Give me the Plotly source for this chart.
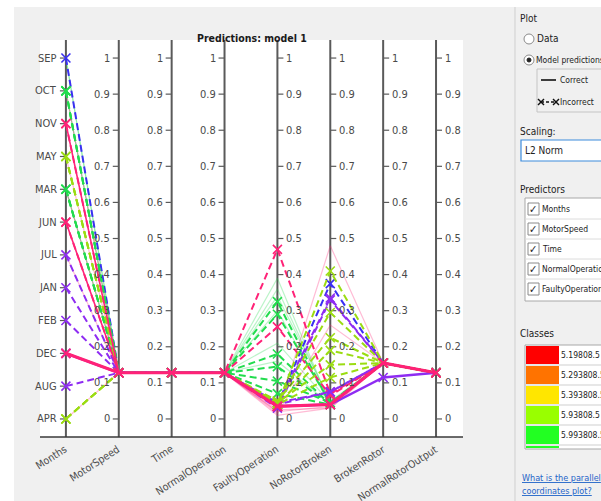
import plotly.graph_objects as go

# ---------------- data ----------------
predictors = ["Months", "MotorSpeed", "Time", "NormalOperation",
              "FaultyOperation", "NoRotorBroken", "BrokenRotor", "NormalRotorOutput"]
month_order = ["APR", "AUG", "DEC", "FEB", "JAN", "JUL", "JUN", "MAR", "MAY", "NOV", "OCT", "SEP"]
tick_values = [0, 0.1, 0.2, 0.3, 0.4, 0.5, 0.6, 0.7, 0.8, 0.9, 1]
tick_labels = ["0", "0.1", "0.2", "0.3", "0.4", "0.5", "0.6", "0.7", "0.8", "0.9", "1"]

motor_speed_value = 0.128
time_value = 0.128
normal_operation_value = 0.128
normal_rotor_output_value = 0.128

obs_month = ["SEP", "OCT", "MAR", "SEP", "OCT", "MAR", "MAY", "JUL", "APR", "OCT", "MAR",
             "SEP", "OCT", "MAR", "OCT", "MAR", "OCT", "MAR", "NOV", "JUN", "DEC",
             "JUL", "AUG", "JAN", "FEB", "MAY", "APR", "MAY", "APR", "MAY", "APR",
             "DEC", "DEC", "NOV", "JUN"]
obs_faulty = [0.39, 0.36, 0.34, 0.30, 0.21, 0.16, 0.02, 0.015, 0.01, 0.02, 0.025,
              0.04, 0.325, 0.29, 0.18, 0.145, 0.105, 0.07, 0.47, 0.255, 0.035,
              0.04, 0.03, 0.04, 0.045, 0.04, 0.045, 0.05, 0.04, 0.045, 0.04,
              0.035, 0.035, 0.035, 0.035]
obs_norotor = [0.04, 0.045, 0.05, 0.04, 0.045, 0.04, 0.48, 0.26, 0.03, 0.035, 0.03,
               0.375, 0.04, 0.045, 0.04, 0.04, 0.045, 0.04, 0.07, 0.065, 0.04,
               0.335, 0.33, 0.075, 0.075, 0.41, 0.295, 0.225, 0.19, 0.15, 0.115,
               0.04, 0.04, 0.04, 0.04]
obs_broken = [0.155, 0.155, 0.155, 0.155, 0.155, 0.155, 0.155, 0.155, 0.155, 0.155, 0.155,
              0.155, 0.155, 0.155, 0.155, 0.155, 0.155, 0.155, 0.155, 0.155, 0.155,
              0.155, 0.155, 0.155, 0.155, 0.155, 0.155, 0.155, 0.155, 0.155, 0.155,
              0.115, 0.155, 0.155, 0.155]
obs_class = ["green", "green", "green", "green", "green", "green", "pink", "pink", "pink", "pink", "pink",
             "blue", "green", "green", "green", "green", "green", "green", "pink", "pink", "pink",
             "purple", "purple", "purple", "purple", "yellowgreen", "yellowgreen", "yellowgreen",
             "yellowgreen", "yellowgreen", "yellowgreen",
             "purple", "pink", "pink", "pink"]
obs_correct = [True, True, True, True, True, True, True, True, True, True, True,
               False, False, False, False, False, False, False, False, False, False,
               False, False, False, False, False, False, False, False, False, False,
               True, True, True, True]
obs_count = [1, 1, 1, 1, 1, 1, 1, 1, 1, 1, 1,
             1, 1, 1, 1, 1, 1, 1, 1, 1, 1,
             1, 1, 1, 1, 1, 1, 1, 1, 1, 1,
             3, 4, 2, 2]

class_names = ["5.19808.5", "5.293808.5", "5.393808.5", "5.93808.5", "5.993808.5"]

# ---------------- style ----------------
line_colors = {"blue": "#3a2ff2", "green": "#22dc4e", "pink": "#ff2277",
               "purple": "#8e2cf2", "yellowgreen": "#9bdc12"}
swatch_colors = ["#ff0000", "#ff7300", "#ffe600", "#99ff00", "#22ff22"]
FONT = "DejaVu Sans Condensed, Liberation Sans Narrow, Arial Narrow, sans-serif"
TICK_COLOR = "#4a4a4a"

W_PAGE, H_PAGE = 601, 501
L, T, R, B = 40, 40, 138, 64
PW, PH = W_PAGE - L - R, H_PAGE - T - B


def xp(px):
    return (px - L) / PW


def yp(py):
    return (T + PH - py) / PH


fig = go.Figure()

order = sorted(range(len(obs_month)),
               key=lambda k: (0 if (obs_correct[k] and obs_count[k] == 1) else
                              1 if not obs_correct[k] else 2 + (obs_class[k] == "pink")))
xs = list(range(len(predictors)))
for k in order:
    vals = [month_order.index(obs_month[k]) / (len(month_order) - 1),
            motor_speed_value, time_value, normal_operation_value,
            obs_faulty[k], obs_norotor[k], obs_broken[k], normal_rotor_output_value]
    col = line_colors[obs_class[k]]
    if obs_correct[k]:
        op = 0.3 if obs_count[k] == 1 else 1.0
        width = 1.2 if obs_count[k] == 1 else 0.8 * obs_count[k]
        fig.add_trace(go.Scatter(x=xs, y=vals, mode="lines",
                                 line=dict(color=col, width=width),
                                 opacity=op, hoverinfo="skip", showlegend=False))
    else:
        fig.add_trace(go.Scatter(x=xs, y=vals, mode="lines+markers",
                                 line=dict(color=col, width=2, dash="7px,4px"),
                                 marker=dict(symbol="x-thin", size=9,
                                             line=dict(color=col, width=1.6)),
                                 hoverinfo="skip", showlegend=False))
    if obs_correct[k] and obs_count[k] > 1:
        fig.add_trace(go.Scatter(x=xs, y=vals, mode="markers",
                                 marker=dict(symbol="x-thin", size=9,
                                             line=dict(color=col, width=1.6)),
                                 hoverinfo="skip", showlegend=False))

shapes = []
annotations = []

# page backgrounds
shapes.append(dict(type="rect", xref="paper", yref="paper", x0=xp(0), x1=xp(601), y0=yp(0), y1=yp(7),
                   fillcolor="white", line=dict(width=0), layer="below"))
shapes.append(dict(type="rect", xref="paper", yref="paper", x0=xp(0), x1=xp(14), y0=yp(0), y1=yp(501),
                   fillcolor="white", line=dict(width=0), layer="below"))

# axes
n_left = 4
for i, name in enumerate(predictors):
    shapes.append(dict(type="line", xref="x", yref="paper", x0=i, x1=i, y0=0, y1=1,
                       line=dict(color="#5a5a5a", width=2), layer="below"))
    left = i < n_left
    if i == 0:
        tv = [j / (len(month_order) - 1) for j in range(len(month_order))]
        tl = month_order
    else:
        tv, tl = tick_values, tick_labels
    for v, lab in zip(tv, tl):
        shapes.append(dict(type="line", xref="x", yref="y", xsizemode="pixel", xanchor=i,
                           x0=-6 if left else 0, x1=0 if left else 6, y0=v, y1=v,
                           line=dict(color="#5a5a5a", width=1.2), layer="below"))
        annotations.append(dict(x=i, y=v, xref="x", yref="y", text=lab, showarrow=False,
                                xanchor="right" if left else "left", xshift=-7 if left else 7,
                                font=dict(family=FONT, size=11, color=TICK_COLOR)))
    annotations.append(dict(x=i, y=yp(440), xref="x", yref="paper", text=name, showarrow=False,
                            textangle=-33, xanchor="right", yanchor="top", xshift=6,
                            font=dict(family=FONT, size=10.5, color=TICK_COLOR)))

# bottom axis line
shapes.append(dict(type="line", xref="paper", yref="paper", x0=0, x1=1, y0=0, y1=0,
                   line=dict(color="#3a3a3a", width=1.5)))

# title
annotations.append(dict(x=0.5, y=yp(30), xref="paper", yref="paper", text="<b>Predictions: model 1</b>",
                        showarrow=False, font=dict(family=FONT, size=10.5, color="#1a1a1a")))

# ---------------- right panel ----------------
PFONT = dict(family=FONT, size=10, color="#222222")


def ptext(x, y, s, **kw):
    f = dict(PFONT)
    f.update(kw.pop("font", {}))
    annotations.append(dict(x=xp(x), y=yp(y), xref="paper", yref="paper", text=s, showarrow=False,
                            xanchor="left", yanchor="middle", font=f, **kw))


def prect(x0, y0, x1, y1, fill="rgba(0,0,0,0)", lc="#b8b8b8", lw=1, kind="rect"):
    shapes.append(dict(type=kind, xref="paper", yref="paper", x0=xp(x0), x1=xp(x1), y0=yp(y1), y1=yp(y0),
                       fillcolor=fill, line=dict(color=lc, width=lw)))


def pline(x0, y0, x1, y1, color="#111", width=1.5, dash="solid"):
    shapes.append(dict(type="line", xref="paper", yref="paper", x0=xp(x0), x1=xp(x1), y0=yp(y0), y1=yp(y1),
                       line=dict(color=color, width=width, dash=dash)))


pline(515, 7, 515, 501, color="#cfcfcf", width=1)
ptext(518, 19, "Plot")
prect(524, 34, 534, 44, fill="white", lc="#8a8a8a", kind="circle")
ptext(535, 39, "Data")
prect(524, 55, 534, 65, fill="white", lc="#8a8a8a", kind="circle")
prect(527, 58, 531, 62, fill="#222", lc="#222", kind="circle")
ptext(534, 60, "Model predictions", font=dict(size=8.5))
prect(537, 69, 606, 112, lc="#c4c4c4")
pline(541, 80, 556, 80, color="#111", width=1.6)
ptext(558, 80, "Correct", font=dict(size=8.5))
pline(541, 102, 556, 102, color="#111", width=1.4, dash="3px,2px")
for cx in (541, 556):
    pline(cx - 3, 99, cx + 3, 105, color="#111", width=1.4)
    pline(cx - 3, 105, cx + 3, 99, color="#111", width=1.4)
ptext(558, 102, "Incorrect", font=dict(size=8.5))
ptext(518, 131, "Scaling:")
prect(521, 140, 606, 161, fill="white", lc="#3d8bdc", lw=1.2)
ptext(523, 150, "L2 Norm")
ptext(518, 189, "Predictors")
prect(525, 198, 606, 301, fill="white", lc="#a8a8a8")
for r in range(5):
    yc = 209 + 20 * r
    if r > 0:
        pline(525, yc - 10, 606, yc - 10, color="#dcdcdc", width=1)
    prect(528, yc - 6, 539, yc + 6, fill="white", lc="#8a8a8a")
    ptext(527, yc, "✓", font=dict(size=11, color="#222"))
    ptext(540, yc, predictors[r], font=dict(size=8.5))
ptext(518, 333, "Classes")
prect(525, 345, 606, 449, fill="white", lc="#a8a8a8")
for r, (nm, sc) in enumerate(zip(class_names, swatch_colors)):
    y0 = 345 + 20 * r
    prect(526, y0 + 1, 559, y0 + 19, fill=sc, lc=sc, lw=0)
    pline(525, y0 + 20, 606, y0 + 20, color="#cfcfcf", width=1)
    ptext(559, y0 + 10, nm, font=dict(size=8.5))
prect(526, 446, 559, 448, fill="#22ff22", lc="#22ff22", lw=0)
ptext(520, 478, "<u>What is the parallel</u>", font=dict(color="#1f64c8", size=9))
ptext(520, 491, "<u>coordinates plot?</u>", font=dict(color="#1f64c8", size=9))

fig.update_layout(
    width=W_PAGE, height=H_PAGE,
    margin=dict(l=L, r=R, t=T, b=B, pad=0),
    paper_bgcolor="#f0f0f0", plot_bgcolor="white",
    xaxis=dict(range=[-0.49, 7.51], visible=False, fixedrange=True),
    yaxis=dict(range=[-0.05, 1.05], visible=False, fixedrange=True),
    shapes=shapes, annotations=annotations, showlegend=False,
)
fig.write_html("out.html")
